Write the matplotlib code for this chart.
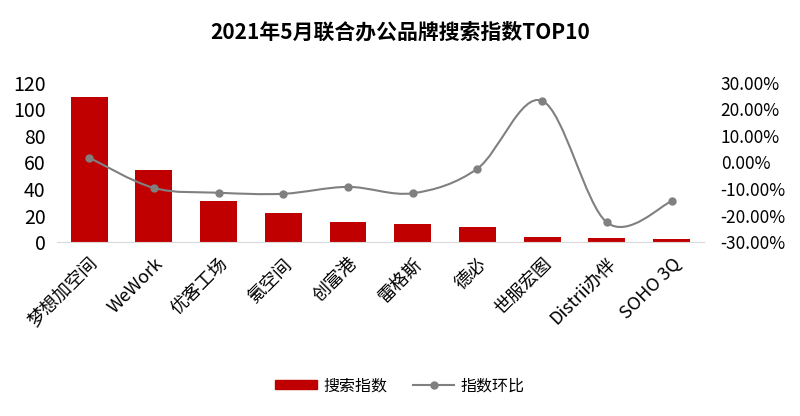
import numpy as np
import matplotlib.pyplot as plt
from matplotlib.path import Path
from matplotlib.patches import PathPatch, Patch
from matplotlib.lines import Line2D
from matplotlib.ticker import FuncFormatter

plt.rcParams['font.family'] = ['Noto Sans CJK SC', 'DejaVu Sans']

brands = ["梦想加空间", "WeWork", "优客工场", "氪空间", "创富港",
          "雷格斯", "德必", "世服宏图", "Distrii办伴", "SOHO 3Q"]
search_index = [109, 54, 31, 21.6, 14.9, 14, 11.5, 4, 3, 2.3]
mom_change = [1.8, -9.6, -11.4, -11.8, -9.2, -11.6, -2.3, 23.2, -22.6, -14.6]

RED = "#C00000"
GRAY = "#808080"


def smooth_path(xs, ys):
    # 类似 Excel 的平滑线：Catmull-Rom 转为三次贝塞尔
    pts = list(zip(xs, ys))
    verts = [pts[0]]
    codes = [Path.MOVETO]
    n = len(pts)
    for i in range(n - 1):
        p0 = pts[i - 1] if i > 0 else pts[i]
        p1 = pts[i]
        p2 = pts[i + 1]
        p3 = pts[i + 2] if i + 2 < n else pts[i + 1]
        c1 = (p1[0] + (p2[0] - p0[0]) / 6, p1[1] + (p2[1] - p0[1]) / 6)
        c2 = (p2[0] - (p3[0] - p1[0]) / 6, p2[1] - (p3[1] - p1[1]) / 6)
        verts += [c1, c2, p2]
        codes += [Path.CURVE4] * 3
    return Path(verts, codes)


fig = plt.figure(figsize=(8, 4.16), dpi=100)
ax = fig.add_axes([0.071, 0.418, 0.809, 0.383])
x = np.arange(len(brands))

ax.bar(x, search_index, width=0.57, color=RED, zorder=2)
ax.set_xlim(-0.5, len(brands) - 0.5)
ax.set_ylim(0, 120)
ax.set_yticks(range(0, 121, 20))
ax.set_xticks(x)
ax.set_xticklabels(brands, rotation=45, ha='right', rotation_mode='anchor', fontsize=13)
ax.tick_params(axis='y', length=0, labelsize=14, pad=8)
ax.tick_params(axis='x', length=0, pad=9)
for s in ["top", "right", "left"]:
    ax.spines[s].set_visible(False)
ax.spines["bottom"].set_color("#D9D9D9")

ax2 = ax.twinx()
ax2.set_ylim(-30, 30)
ax2.set_yticks(range(-30, 31, 10))
ax2.yaxis.set_major_formatter(FuncFormatter(lambda v, p: f"{v:.2f}%"))
ax2.tick_params(length=0, labelsize=12.5, pad=12)
for s in ["top", "right", "left", "bottom"]:
    ax2.spines[s].set_visible(False)
ax2.add_patch(PathPatch(smooth_path(x, mom_change), facecolor='none',
                        edgecolor=GRAY, lw=1.5, zorder=3))
ax2.plot(x, mom_change, 'o', color=GRAY, ms=5, zorder=4)

fig.text(0.5, 0.922, "2021年5月联合办公品牌搜索指数TOP10", ha='center', va='center',
         fontsize=15, fontweight='bold')

handles = [Patch(facecolor=RED, edgecolor=RED),
           Line2D([], [], color=GRAY, lw=1.5, marker='o', ms=5)]
fig.legend(handles, ["搜索指数", "指数环比"], loc='center', bbox_to_anchor=(0.5, 0.073),
           ncol=2, frameon=False, fontsize=11.5, handlelength=2.6, handleheight=0.5,
           columnspacing=1.6, handletextpad=0.4)

fig.savefig("out.png", dpi=100)
